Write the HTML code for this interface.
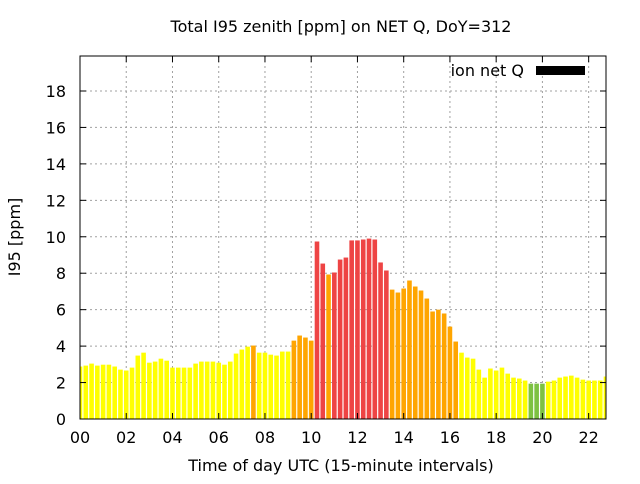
<!DOCTYPE html>
<html><head><meta charset="utf-8"><style>
body{margin:0;background:#fff;font-family:"DejaVu Sans","Liberation Sans",sans-serif;}
text{font-family:"DejaVu Sans","Liberation Sans",sans-serif;}
</style></head><body>
<svg id="chart" width="640" height="480" xmlns="http://www.w3.org/2000/svg">
<defs><clipPath id="pc"><rect x="80" y="56" width="526" height="363"/></clipPath></defs>
<rect width="640" height="480" fill="#fff"/>
<text x="341" y="32" font-size="16" text-anchor="middle">Total I95 zenith [ppm] on NET Q, DoY=312</text>
<g id="grid"></g>
<g id="bars" clip-path="url(#pc)"></g>
<rect x="80" y="56" width="526" height="363" fill="none" stroke="#000" stroke-width="1"/>
<g id="ticks"></g>
<text transform="translate(20,237) rotate(-90)" font-size="16" text-anchor="middle">I95 [ppm]</text>
<text x="341" y="471" font-size="16" text-anchor="middle">Time of day UTC (15-minute intervals)</text>
<g>
<text x="524" y="76" font-size="16" text-anchor="end">ion net Q</text>
<rect x="536" y="66" width="49" height="9" fill="#000"/>
</g>
</svg>
<script>
const values = [2.88,2.93,3.04,2.93,2.98,2.98,2.88,2.71,2.66,2.82,3.48,3.64,3.09,3.15,3.31,3.2,2.82,2.82,2.82,2.82,3.04,3.15,3.15,3.15,3.09,2.98,3.15,3.59,3.81,3.97,4.03,3.64,3.64,3.53,3.48,3.7,3.7,4.3,4.58,4.47,4.3,9.74,8.53,7.93,8.04,8.75,8.86,9.8,9.8,9.85,9.9,9.85,8.59,8.15,7.1,6.94,7.16,7.6,7.27,7.05,6.61,5.9,6.0,5.79,5.07,4.25,3.64,3.37,3.31,2.71,2.27,2.77,2.66,2.82,2.49,2.27,2.22,2.11,1.94,1.94,1.94,2.05,2.11,2.27,2.33,2.38,2.27,2.16,2.11,2.11,2.11,2.33];
const yTicks = [0,2,4,6,8,10,12,14,16,18];
const xTickHours = [0,2,4,6,8,10,12,14,16,18,20,22];
const xTickLabels = ["00","02","04","06","08","10","12","14","16","18","20","22"];
const X0=80,X1=606,Y0=419,HMAX=22.75,YMAX=19.92;
const sx=h=>X0+(h/HMAX)*(X1-X0);
const sy=v=>Y0-(v/YMAX)*(Y0-56);
const NS="http://www.w3.org/2000/svg";
function mk(t,a,p){const e=document.createElementNS(NS,t);for(const k in a)e.setAttribute(k,a[k]);p.appendChild(e);return e;}
const grid=document.getElementById('grid'),bars=document.getElementById('bars'),ticks=document.getElementById('ticks');
yTicks.forEach(v=>{
  if(v>0){const l=mk('line',{x1:X0,x2:X1,y1:sy(v),y2:sy(v),stroke:'#a0a0a0','stroke-dasharray':'2,3'},grid);
  
  }
  mk('line',{x1:X0,x2:X0+6,y1:sy(v),y2:sy(v),stroke:'#000'},ticks);
  mk('line',{x1:X1,x2:X1-6,y1:sy(v),y2:sy(v),stroke:'#000'},ticks);
  const t=mk('text',{x:66,y:sy(v)+6,'font-size':16,'text-anchor':'end'},ticks);
  t.textContent=v;
  
  
});
xTickHours.forEach((h,i)=>{
  const x=sx(h);
  if(h>0){const l=mk('line',{x1:x,x2:x,y1:56,y2:Y0,stroke:'#a0a0a0','stroke-dasharray':'2,3'},grid);
  
  }
  mk('line',{x1:x,x2:x,y1:Y0,y2:Y0-6,stroke:'#000'},ticks);
  mk('line',{x1:x,x2:x,y1:56,y2:62,stroke:'#000'},ticks);
  const t=mk('text',{x:x,y:443,'font-size':16,'text-anchor':'middle'},ticks);
  t.textContent=xTickLabels[i];
  
  
});
function col(v){return v<2?'#7dc142':v<4?'#ffff00':v<8?'#ffa500':'#ee4444';}
values.forEach((v,i)=>{
  const cx=sx(i/4),w=4.6;
  const r=mk('rect',{x:cx-w/2,y:sy(v),width:w,height:Y0-sy(v),fill:col(v)},bars);
  
  
});
</script>
</body></html>
